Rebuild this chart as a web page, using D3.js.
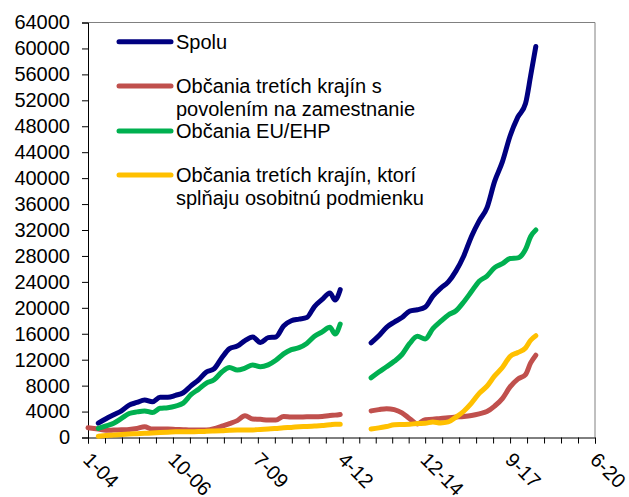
<!DOCTYPE html>
<html>
<head>
<meta charset="utf-8">
<script src="https://cdn.jsdelivr.net/npm/d3@7"></script>
<style>
body { margin: 0; background: #fff; }
text { font-family: "Liberation Sans", Arial, sans-serif; fill: #000; }
</style>
</head>
<body>
<div id="chart"></div>
<script>
// months counted from 1-04 (January 2004 = 0)
var months1 = [0, 4, 7, 10, 13, 16, 19, 22, 25, 28, 31, 34, 37, 40, 43, 46, 49, 52, 55, 58,
    61, 64, 67, 70, 73, 76, 79, 82, 85, 88, 91, 94, 96, 98];
var months2 = [110, 113, 116, 119, 122, 125, 128, 131, 134, 137, 140, 143, 146, 149, 152, 155,
    158, 161, 164, 167, 170, 172, 174];

var spolu1 = [null, 2200, 2900, 3500, 4100, 5000, 5400, 5800, 5500, 6200, 6200, 6500, 6900, 7950,
    8900, 10100, 10600, 12300, 13700, 14100, 14950, 15500, 14650, 15400, 15500, 17200, 18000,
    18250, 18500, 20200, 21300, 22300, 21200, 22800];
var spolu2 = [14600, 15700, 17000, 17800, 18500, 19500, 19700, 20100, 21800, 23000, 24000, 25700,
    28000, 31000, 33400, 35400, 39500, 42500, 46500, 49400, 51500, 55800, 60300];

var povolenie1 = [1500, 1300, 1100, 1150, 1200, 1250, 1400, 1650, 1300, 1300, 1300, 1250, 1200,
    1150, 1150, 1150, 1350, 1750, 2150, 2600, 3350, 2850, 2800, 2700, 2700, 3250, 3150, 3150,
    3200, 3200, 3250, 3400, 3450, 3550];
var povolenie2 = [4100, 4300, 4450, 4300, 3800, 2900, 2100, 2750, 2800, 2950, 3050, 3150, 3250,
    3400, 3650, 4000, 4850, 6000, 7800, 9000, 9700, 11500, 12700];

var euEhp1 = [null, 1400, 1800, 2200, 2950, 3700, 3950, 4100, 3850, 4500, 4600, 4850, 5300, 6600,
    7450, 8400, 8900, 10100, 10800, 10400, 10700, 11200, 10900, 11200, 11900, 12900, 13550,
    13850, 14500, 15600, 16300, 17000, 15950, 17500];
var euEhp2 = [9200, 10100, 10900, 11750, 12800, 14500, 15600, 15200, 16800, 17900, 18900, 19550,
    20900, 22500, 24100, 24900, 26200, 26800, 27600, 27700, 29000, 31000, 32000];

var podmienka1 = [null, 200, 300, 400, 460, 530, 580, 640, 700, 760, 820, 870, 900, 900, 910, 950,
    1000, 1050, 1120, 1160, 1160, 1170, 1250, 1310, 1400, 1500, 1560, 1650, 1700, 1770, 1850,
    1950, 2050, 2050];
var podmienka2 = [1300, 1480, 1700, 1950, 2000, 2050, 2150, 2200, 2400, 2250, 2400, 3150, 4050,
    5300, 6800, 7900, 9500, 10800, 12500, 13100, 13800, 15000, 15700];

var xLabels = ['1-04', '10-06', '7-09', '4-12', '12-14', '9-17', '6-20'];
var yTicks = d3.range(0, 64001, 4000);

var series = [
    { name: ['Spolu'], color: '#000080', v1: spolu1, v2: spolu2 },
    { name: ['Občania tretích krajín s', 'povolením na zamestnanie'], color: '#c0504d', v1: povolenie1, v2: povolenie2 },
    { name: ['Občania EU/EHP'], color: '#00b050', v1: euEhp1, v2: euEhp2 },
    { name: ['Občania tretích krajín, ktorí', 'splňaju osobitnú podmienku'], color: '#ffc000', v1: podmienka1, v2: podmienka2 }
];

var labelMonth = s => {
    var p = s.split('-');
    return (+p[1] - 4) * 12 + (+p[0] - 1);
};

function drawChart() {
    var width = 629, height = 497;
    var plotLeft = 88, plotRight = 595, plotTop = 22.5, plotBottom = 437.5;

    var svg = d3.select('#chart').append('svg')
        .attr('width', width)
        .attr('height', height);

    var x = d3.scaleLinear().domain([0, labelMonth('6-20')]).range([plotLeft, plotRight]);
    var y = d3.scaleLinear().domain([0, 64000]).range([plotBottom, plotTop]);

    // frame: grey top and right
    svg.append('path')
        .attr('d', `M${plotLeft},${plotTop}H${plotRight}V${plotBottom}`)
        .attr('fill', 'none')
        .attr('stroke', '#808080')
        .attr('stroke-width', 1);

    // y axis
    var yAxis = svg.append('g')
        .attr('transform', `translate(${plotLeft},0)`)
        .call(d3.axisLeft(y).tickValues(yTicks).tickFormat(d3.format('d')).tickSize(6).tickPadding(12));
    yAxis.selectAll('text').style('font-size', '20px').style('font-family', '"Liberation Sans", Arial, sans-serif');
    yAxis.select('.domain').attr('stroke', '#000');

    // x axis: major ticks at labels, 5 minor intervals in between
    var majors = xLabels.map(labelMonth);
    var allTicks = [];
    majors.forEach((m, i) => {
        allTicks.push(m);
        if (i < majors.length - 1) {
            for (var k = 1; k < 5; k++) allTicks.push(m + (majors[i + 1] - m) * k / 5);
        }
    });
    var xAxis = svg.append('g')
        .attr('transform', `translate(0,${plotBottom})`)
        .call(d3.axisBottom(x).tickValues(allTicks).tickSize(6).tickFormat(''));
    xAxis.select('.domain').attr('stroke', '#000');

    svg.append('g')
        .selectAll('text')
        .data(xLabels)
        .join('text')
        .attr('transform', d => `translate(${x(labelMonth(d)) - 1},456) rotate(45)`)
        .attr('dy', '0.35em')
        .style('font-size', '20px')
        .text(d => d);

    // lines
    var line = d3.line()
        .defined(d => d[1] != null)
        .x(d => x(d[0]))
        .y(d => y(d[1]))
        .curve(d3.curveMonotoneX);

    series.forEach(s => {
        [[months1, s.v1], [months2, s.v2]].forEach(seg => {
            var pts = seg[0].map((m, i) => [m, seg[1][i]]);
            svg.append('path')
                .datum(pts)
                .attr('d', line)
                .attr('fill', 'none')
                .attr('stroke', s.color)
                .attr('stroke-width', 5)
                .attr('stroke-linejoin', 'round')
                .attr('stroke-linecap', 'round');
        });
    });

    // legend
    var legendY = [41.7, 86, 131, 175];
    series.forEach((s, i) => {
        var g = svg.append('g').attr('transform', `translate(0,${legendY[i]})`);
        g.append('line')
            .attr('x1', 119).attr('x2', 171)
            .attr('stroke', s.color)
            .attr('stroke-width', 5)
            .attr('stroke-linecap', 'round');
        s.name.forEach((t, j) => {
            g.append('text')
                .attr('x', 176)
                .attr('y', j * 23)
                .attr('dy', '0.35em')
                .style('font-size', '20px')
                .text(t);
        });
    });
}

drawChart();
</script>
</body>
</html>
